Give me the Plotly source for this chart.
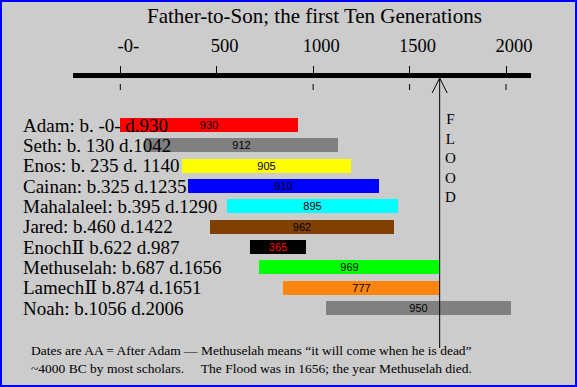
import plotly.graph_objects as go

# ---- data ----
labels = [
    "Adam: b. -0- d.930",
    "Seth: b. 130 d.1042",
    "Enos: b. 235 d. 1140",
    "Cainan: b.325 d.1235",
    "Mahalaleel: b.395 d.1290",
    "Jared: b.460 d.1422",
    "EnochⅡ b.622 d.987",
    "Methuselah: b.687 d.1656",
    "LamechⅡ b.874 d.1651",
    "Noah: b.1056 d.2006",
]
# bar extents as drawn (years After Adam)
bar_start = [0, 130, 318, 353, 553, 465, 672, 719, 844, 1067]
bar_end = [920, 1129, 1196, 1341, 1440, 1419, 963, 1656, 1656, 2026]
lifespans = [930, 912, 905, 910, 895, 962, 365, 969, 777, 950]
bar_colors = ["#FF0000", "#808080", "#FFFF00", "#0000FF", "#00FFFF",
              "#804000", "#000000", "#00FF00", "#FF8410", "#808080"]
text_colors = ["black"] * 6 + ["#FF0000"] + ["black"] * 3
tick_vals = [0, 500, 1000, 1500, 2000]
tick_text = ["-0-", "500", "1000", "1500", "2000"]
below_marks = [0, 1000, 1500, 2000]
flood_year = 1656
title = "Father-to-Son; the first Ten Generations"
note_lines = [
    "Dates are AA = After Adam — Methuselah means “it will come when he is dead”",
    "~4000 BC by most scholars.\u00a0\u00a0\u00a0\u00a0 The Flood was in 1656; the year Methuselah died.",
]

# ---- layout geometry (pixels) ----
W, H = 577, 387
L, R, T, B = 73, 531, 78, 335
PW, PH = R - L, B - T
row_top_px, row_bot_px = 125, 308
unit = (row_bot_px - row_top_px) / (len(labels) - 1)
y_top = -(row_top_px - T) / unit
y_bot = (len(labels) - 1) + (B - row_bot_px) / unit


def px(x):
    return (x - L) / PW


def py(y):
    return (B - y) / PH


SERIF = "Liberation Serif, Times New Roman, DejaVu Serif, serif"
SANS = "Liberation Sans, Arial, sans-serif"

fig = go.Figure()
fig.add_trace(go.Bar(
    y=labels,
    base=bar_start,
    x=[e - s for s, e in zip(bar_start, bar_end)],
    orientation="h",
    width=14 / unit,
    marker=dict(color=bar_colors, line=dict(width=0)),
    text=[str(v) for v in lifespans],
    textposition="inside",
    insidetextanchor="middle",
    textangle=0,
    constraintext="none",
    textfont=dict(family=SANS, size=11, color=text_colors),
    hoverinfo="skip",
    showlegend=False,
))

annotations = []
for lab in labels:
    annotations.append(dict(
        text=lab, xref="paper", x=px(21), xanchor="left",
        yref="y", y=lab, yanchor="middle", showarrow=False,
        font=dict(family=SERIF, size=19, color="black"),
    ))
annotations.append(dict(
    text=title, xref="paper", x=px(314.5), xanchor="center",
    yref="paper", y=py(16), yanchor="middle", showarrow=False,
    font=dict(family=SERIF, size=21, color="black"),
))
annotations.append(dict(
    text="<br>".join("FLOOD"), xref="x", x=flood_year, xshift=11,
    xanchor="center", yref="paper", y=py(158), yanchor="middle",
    showarrow=False, font=dict(family=SERIF, size=15, color="black"),
))
annotations.append(dict(
    text="<br>".join(note_lines), xref="paper", x=px(29), xanchor="left",
    align="left", yref="paper", y=py(359), yanchor="middle", showarrow=False,
    font=dict(family=SERIF, size=13.5, color="black"),
))

shapes = [
    # flood line
    dict(type="line", xref="x", x0=flood_year, x1=flood_year,
         yref="paper", ysizemode="pixel", yanchor=1, y0=0, y1=-270,
         line=dict(color="black", width=1)),
    # arrow head
    dict(type="path", xref="x", xsizemode="pixel", xanchor=flood_year,
         yref="paper", ysizemode="pixel", yanchor=1,
         path="M-7.5,-15 L0,0 L7.5,-15",
         line=dict(color="black", width=1)),
    # outer blue border
    dict(type="rect", xref="paper", yref="paper",
         x0=px(1), x1=px(576), y0=py(386), y1=py(1),
         line=dict(color="#0000FF", width=2)),
]
for m in below_marks:
    shapes.append(dict(type="line", xref="x", x0=m, x1=m,
                       yref="paper", ysizemode="pixel", yanchor=1,
                       y0=-6, y1=-12, line=dict(color="black", width=1)))

fig.update_layout(
    width=W, height=H,
    margin=dict(l=L, r=W - R, t=T, b=H - B, pad=0),
    paper_bgcolor="#CCCCCC", plot_bgcolor="#CCCCCC",
    annotations=annotations, shapes=shapes,
    xaxis=dict(
        side="top", range=[-245.3, 2129.6],
        showgrid=False, zeroline=False,
        showline=True, linewidth=5, linecolor="black",
        ticks="outside", ticklen=7, tickwidth=1, tickcolor="black",
        tickvals=tick_vals, ticktext=tick_text, ticklabelshift=8,
        ticklabelstandoff=7,
        tickfont=dict(family=SERIF, size=18.5, color="black"),
        fixedrange=True,
    ),
    yaxis=dict(
        type="category", range=[y_bot, y_top],
        showgrid=False, zeroline=False, showline=False,
        showticklabels=False, ticks="", fixedrange=True,
    ),
    bargap=0,
)

fig.write_html(
    "out.html",
    config={"displayModeBar": False},
    post_script="document.body.style.margin='0';document.body.style.overflow='hidden';",
)
